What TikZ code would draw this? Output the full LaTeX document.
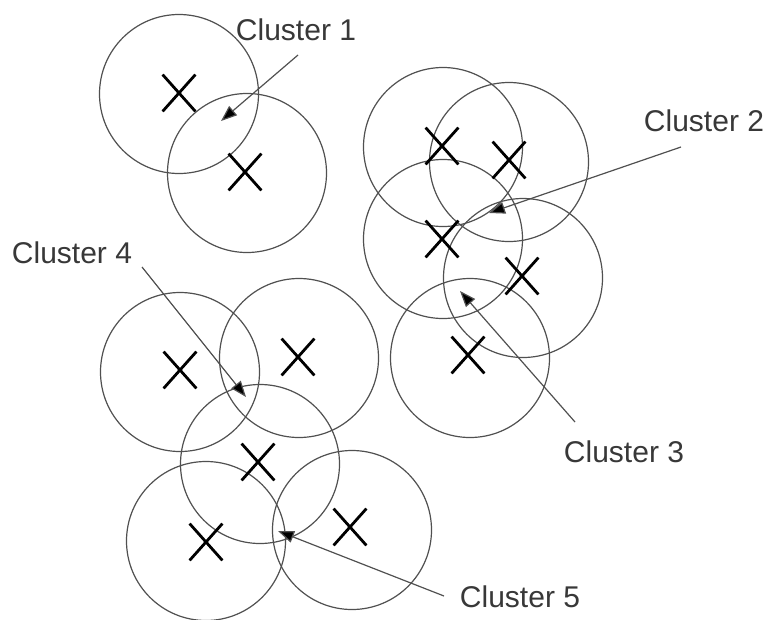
\documentclass[tikz,border=0pt]{standalone}
\usepackage{fontspec}
\setmainfont{Liberation Sans}
\usetikzlibrary{arrows.meta,shapes.misc}
\definecolor{ringgray}{HTML}{505050}
\definecolor{labelgray}{HTML}{383838}
\tikzset{
  ring/.style={circle, draw=ringgray, line width=1.2pt, minimum size=159pt, inner sep=0pt},
  centre/.style={cross out, draw=black, line width=2.8pt, minimum width=30pt, minimum height=34pt, inner sep=0pt},
  tag/.style={text=labelgray, font=\fontsize{30}{35}\selectfont, inner sep=2pt},
  pointer/.style={draw=ringgray, line width=1.2pt, -{Triangle[length=16pt,width=12pt,fill=black]}}
}
\begin{document}
\begin{tikzpicture}[x=1pt,y=-1pt]
\useasboundingbox (0,0) rectangle (768,619);

% group 1
\node[ring] (a1) at (179,94) {};
\node[ring] (a2) at (247,173) {};
\node[centre] (xa1) at (179,93) {};
\node[centre] (xa2) at (245,172) {};

% group 2 / 3
\node[ring] (b1) at (443,147) {};
\node[ring] (b2) at (509,162) {};
\node[ring] (b3) at (443,239) {};
\node[ring] (b4) at (523,278) {};
\node[ring] (b5) at (470,358) {};
\node[centre] (xb1) at (442,146) {};
\node[centre] (xb2) at (509,160) {};
\node[centre] (xb3) at (442,239) {};
\node[centre] (xb4) at (522,276) {};
\node[centre] (xb5) at (468,355) {};

% group 4 / 5
\node[ring] (c1) at (180,372) {};
\node[ring] (c2) at (299,358) {};
\node[ring] (c3) at (260,464) {};
\node[ring] (c4) at (206,541) {};
\node[ring] (c5) at (352,530) {};
\node[centre] (xc1) at (180,370) {};
\node[centre] (xc2) at (298,357) {};
\node[centre] (xc3) at (258,462) {};
\node[centre] (xc4) at (206,542) {};
\node[centre] (xc5) at (350,527) {};

% labels
\node[tag] (l1) at (296,30) {Cluster 1};
\node[tag] (l2) at (704,121) {Cluster 2};
\node[tag] (l3) at (624,452) {Cluster 3};
\node[tag] (l4) at (72,253) {Cluster 4};
\node[tag] (l5) at (520,597) {Cluster 5};

% pointer ends
\coordinate (s1) at (298,55);  \coordinate (t1) at (221,121);
\coordinate (s2) at (681,147); \coordinate (t2) at (489,213);
\coordinate (s3) at (575,422); \coordinate (t3) at (460,291);
\coordinate (s4) at (142,267); \coordinate (t4) at (246,397);
\coordinate (s5) at (444,596); \coordinate (t5) at (278,531);

\draw[pointer] (s1) -- (t1);
\draw[pointer] (s2) -- (t2);
\draw[pointer] (s3) -- (t3);
\draw[pointer] (s4) -- (t4);
\draw[pointer] (s5) -- (t5);
\end{tikzpicture}
\end{document}
